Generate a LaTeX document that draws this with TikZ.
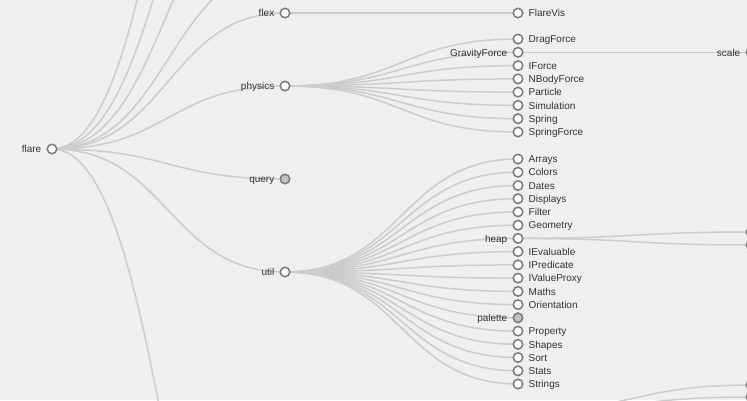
\documentclass[tikz,border=0pt]{standalone}
\usepackage{fontspec}
\setmainfont{Liberation Sans}
\usetikzlibrary{calc}
\pgfdeclarelayer{back}
\pgfdeclarelayer{bg}
\pgfsetlayers{back,bg,main}
\definecolor{bgc}{HTML}{EFEFEF}
\definecolor{linkc}{HTML}{CCCCCC}
\definecolor{ringc}{HTML}{7A7A7A}
\definecolor{collc}{HTML}{C2C2C2}
\definecolor{txtc}{HTML}{333333}
\tikzset{
  nd/.style={circle,draw=ringc,fill=white,line width=1.5pt,minimum size=9.5pt,inner sep=0pt},
  cnd/.style={nd,fill=collc},
  lab/.style={inner sep=0pt,font=\fontsize{10}{12}\selectfont,text=txtc},
  link/.style={draw=linkc,line width=1.5pt},
}
\newcommand\tnR[3]{\node[nd] (#1) at #2 {};
  \node[lab,anchor=base west] (#1-t) at ([xshift=10.5pt,yshift=-3.7pt]#1.center) {#3};}
\newcommand\tnL[3]{\node[nd] (#1) at #2 {};
  \node[lab,anchor=base east] (#1-t) at ([xshift=-10.5pt,yshift=-3.7pt]#1.center) {#3};}
\newcommand\tnCL[3]{\node[cnd] (#1) at #2 {};
  \node[lab,anchor=base east] (#1-t) at ([xshift=-10.5pt,yshift=-3.7pt]#1.center) {#3};}
\newcommand\lnk[2]{\begin{pgfonlayer}{bg}
  \draw[link] let \p1=(#1.center), \p2=(#2.center), \p3=($(\p1)!0.5!(\p2)$) in
    (\p1) .. controls (\x3,\y1) and (\x3,\y2) .. (\p2);
  \end{pgfonlayer}}
\begin{document}
\begin{tikzpicture}[x=1pt,y=-1pt]
\begin{pgfonlayer}{back}
  \fill[bgc] (0,0) rectangle (747,400);
\end{pgfonlayer}
\useasboundingbox (0,0) rectangle (747,400);
% depth 0 and 1
\tnL{flare}{(52,149)}{flare}
\coordinate (analytics) at (285,-445);
\coordinate (animate) at (285,-255);
\coordinate (data) at (285,-127);
\coordinate (display) at (285,-32);
\coordinate (vis) at (285,760);
\tnL{flex}{(285,13)}{flex}
\tnL{physics}{(285,86)}{physics}
\tnCL{query}{(285,179)}{query}
\tnL{util}{(285,272)}{util}
% depth 2
\tnR{flarevis}{(518,13)}{FlareVis}
\tnR{dragforce}{(518,39)}{DragForce}
\tnL{gravityforce}{(518,52.3)}{GravityForce}
\tnR{iforce}{(518,65.6)}{IForce}
\tnR{nbodyforce}{(518,78.9)}{NBodyForce}
\tnR{particle}{(518,92.1)}{Particle}
\tnR{simulation}{(518,105.4)}{Simulation}
\tnR{spring}{(518,118.7)}{Spring}
\tnR{springforce}{(518,132)}{SpringForce}
\tnR{arrays}{(518,159)}{Arrays}
\tnR{colors}{(518,172.2)}{Colors}
\tnR{dates}{(518,185.5)}{Dates}
\tnR{displays}{(518,198.7)}{Displays}
\tnR{filter}{(518,211.9)}{Filter}
\tnR{geometry}{(518,225.2)}{Geometry}
\tnL{heap}{(518,238.4)}{heap}
\tnR{ievaluable}{(518,251.6)}{IEvaluable}
\tnR{ipredicate}{(518,264.9)}{IPredicate}
\tnR{ivalueproxy}{(518,278.1)}{IValueProxy}
\tnR{maths}{(518,291.4)}{Maths}
\tnR{orientation}{(518,304.6)}{Orientation}
\tnCL{palette}{(518,317.8)}{palette}
\tnR{property}{(518,331.1)}{Property}
\tnR{shapes}{(518,344.3)}{Shapes}
\tnR{sort}{(518,357.5)}{Sort}
\tnR{stats}{(518,370.8)}{Stats}
\tnR{strings}{(518,384)}{Strings}
\coordinate (visc) at (518,411);
% depth 3
\tnL{scale}{(751,52.3)}{scale}
\node[nd] (heapa) at (751,232) {};
\node[nd] (heapb) at (751,245) {};
\node[nd] (visa) at (751,385) {};
\node[nd] (visb) at (751,397) {};
% links
\foreach \c in {analytics,animate,data,display,flex,physics,query,util,vis}{\lnk{flare}{\c}}
\lnk{flex}{flarevis}
\foreach \c in {dragforce,gravityforce,iforce,nbodyforce,particle,simulation,spring,springforce}{\lnk{physics}{\c}}
\lnk{gravityforce}{scale}
\foreach \c in {arrays,colors,dates,displays,filter,geometry,heap,ievaluable,ipredicate,ivalueproxy,maths,orientation,palette,property,shapes,sort,stats,strings}{\lnk{util}{\c}}
\lnk{heap}{heapa}
\lnk{heap}{heapb}
\lnk{visc}{visa}
\lnk{visc}{visb}
\end{tikzpicture}
\end{document}
